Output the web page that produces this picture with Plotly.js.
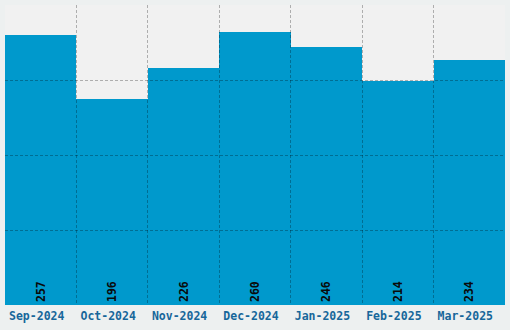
<!DOCTYPE html>
<html>
<head>
<meta charset="utf-8">
<script src="https://cdn.plot.ly/plotly-3.0.1.min.js"></script>
<style>html,body{margin:0;padding:0;background:#edf0f0;}#chart{width:510px;height:330px;}</style>
</head>
<body>
<div id="chart"></div>
<script>
const categories = ["Sep-2024", "Oct-2024", "Nov-2024", "Dec-2024", "Jan-2025", "Feb-2025", "Mar-2025"];
const values = [257, 196, 226, 260, 246, 214, 234];

const yMax = Math.max(...values) * 1.1;
const yGrid = [1, 2, 3].map(k => yMax * k / 4);
const xGrid = categories.slice(1).map((c, i) => i + 0.5);
const monoFont = "DejaVu Sans Mono, monospace";

const traces = [
  {
    type: "bar",
    x: categories,
    y: values,
    text: values.map(String),
    textposition: "inside",
    insidetextanchor: "start",
    textangle: -90,
    insidetextfont: {family: monoFont, size: 11.5, color: "#0a0a0a", weight: "bold"},
    marker: {color: "#0099cc", line: {width: 0}},
    hoverinfo: "x+y",
    xaxis: "x",
    yaxis: "y"
  },
  {
    type: "scatter",
    mode: "markers",
    x: [0, categories.length - 1],
    y: [0, 0],
    marker: {opacity: 0},
    hoverinfo: "skip",
    showlegend: false,
    xaxis: "x2",
    yaxis: "y2"
  }
];

const layout = {
  width: 510,
  height: 330,
  margin: {l: 5, r: 5, t: 5, b: 25},
  paper_bgcolor: "#edf0f0",
  plot_bgcolor: "rgba(0,0,0,0)",
  showlegend: false,
  bargap: 0,
  shapes: [{
    type: "rect", layer: "below",
    xref: "x domain", yref: "y domain",
    x0: 0, x1: 1, y0: 0, y1: 1,
    fillcolor: "#f1f1f1", line: {width: 0}
  }],
  xaxis: {
    type: "category",
    showgrid: false,
    zeroline: false,
    showline: false,
    ticks: "",
    ticklabelshift: -4,
    ticklabelstandoff: 2,
    tickfont: {family: monoFont, size: 11.5, color: "#17679a", weight: "bold"},
    fixedrange: true
  },
  yaxis: {
    range: [0, yMax],
    showgrid: false,
    zeroline: false,
    showticklabels: false,
    ticks: "",
    fixedrange: true
  },
  xaxis2: {
    anchor: "y2",
    range: [-0.5, categories.length - 0.5],
    tickmode: "array",
    tickvals: xGrid,
    showticklabels: false,
    ticks: "",
    showgrid: true,
    gridcolor: "rgba(0,0,0,0.28)",
    griddash: "3px,2px",
    gridwidth: 1,
    zeroline: false,
    showline: false,
    fixedrange: true
  },
  yaxis2: {
    anchor: "x2",
    range: [0, yMax],
    tickmode: "array",
    tickvals: yGrid,
    showticklabels: false,
    ticks: "",
    showgrid: true,
    gridcolor: "rgba(0,0,0,0.28)",
    griddash: "3px,2px",
    gridwidth: 1,
    zeroline: false,
    showline: false,
    fixedrange: true
  }
};

Plotly.newPlot("chart", traces, layout, {displayModeBar: false, staticPlot: true});
</script>
</body>
</html>
